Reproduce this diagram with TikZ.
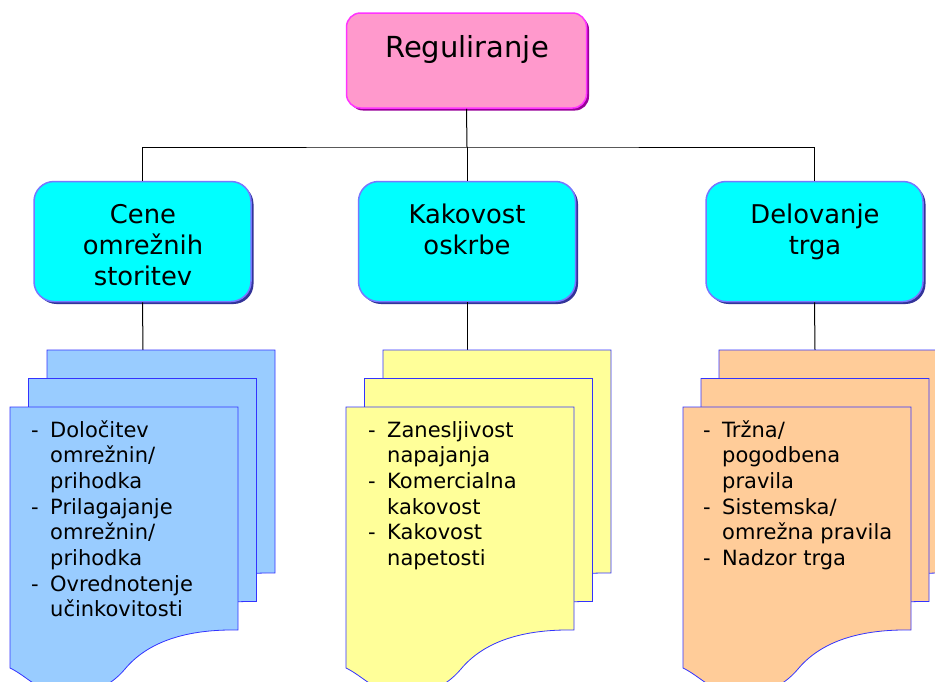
\documentclass[tikz,border=0pt]{standalone}
\usepackage{fontspec}
\setmainfont{DejaVu Sans}
\usetikzlibrary{shadows}
\definecolor{pinkfill}{HTML}{FF99CC}
\definecolor{pinkline}{HTML}{FF33FF}
\definecolor{pinkshadow}{HTML}{990099}
\definecolor{cyanfill}{HTML}{00FFFF}
\definecolor{cyanline}{HTML}{7777FF}
\definecolor{cyanshadow}{HTML}{333399}
\definecolor{sheetline}{HTML}{3333FF}
\definecolor{bluesheet}{HTML}{99CCFF}
\definecolor{yellowsheet}{HTML}{FFFF99}
\definecolor{orangesheet}{HTML}{FFCC99}
\newcommand\mydocsheet[3]{%
  \begin{scope}[shift={(#1,#2)}]
    \filldraw[fill=#3,draw=sheetline,line width=0.8pt]
      (0,0) -- (228,0) -- (228,223)
      .. controls (170,222) and (135,238) .. (115,262)
      .. controls (100,280) and (75,292) .. (50,288)
      .. controls (30,285) and (15,268) .. (0,261) -- cycle;
  \end{scope}}
\newcommand\mydash{\leavevmode\llap{\makebox[19pt][l]{-}}}
\begin{document}
\begin{tikzpicture}[x=1pt,y=-1pt,
  topbox/.style={draw=pinkline,fill=pinkfill,line width=1.5pt,rounded corners=14pt,
    minimum width=240pt,minimum height=95pt,
    drop shadow={shadow xshift=2.5pt,shadow yshift=-2.5pt,fill=pinkshadow,opacity=1}},
  midbox/.style={draw=cyanline,fill=cyanfill,line width=1.5pt,rounded corners=20pt,
    minimum width=217pt,minimum height=120pt,
    drop shadow={shadow xshift=2.5pt,shadow yshift=-2.5pt,fill=cyanshadow,opacity=1}},
  midtext/.style={anchor=base,inner sep=0pt,font=\fontsize{25.8}{31}\selectfont},
  listtext/.style={anchor=base west,inner sep=0pt,font=\fontsize{21}{25.7}\selectfont},
  conn/.style={draw=black,line width=1pt}]
\useasboundingbox (0,0) rectangle (935,681);
\clip (0,0) rectangle (935,681);
\fill[white] (0,0) rectangle (935,681);

% top box
\node[topbox] (reg) at (466.5,60.5) {};
\node[anchor=base,inner sep=0pt,font=\fontsize{29}{33}\selectfont] (regt) at (467,57.5) {Reguliranje};

% middle boxes
\node[midbox] (cene) at (142.5,241.5) {};
\node[midbox] (kak) at (467,241.5) {};
\node[midbox] (trg) at (814.5,241.5) {};
\begin{scope}
  \clip (30,181) rectangle (255,288);
  \node[midtext] (cenet) at (143,223) {\parbox[t]{210pt}{\centering Cene\\omrežnih\\storitev}};
\end{scope}
\node[midtext] (kakt) at (467,223) {\parbox[t]{210pt}{\centering Kakovost\\oskrbe}};
\node[midtext] (trgt) at (815,223) {\parbox[t]{210pt}{\centering Delovanje\\trga}};

% connectors
\coordinate (bus) at (467,147);
\draw[conn] (reg.south) -- (bus);
\draw[conn] (cene.north) |- (bus) -| (trg.north);
\draw[conn] (bus) -- (kak.north);
\coordinate (s1) at (143,350);
\coordinate (s2) at (467,350);
\coordinate (s3) at (815,350);
\draw[conn] (cene.south) -- (s1);
\draw[conn] (kak.south) -- (s2);
\draw[conn] (trg.south) -- (s3);

% sheets
\mydocsheet{47}{350}{bluesheet}
\mydocsheet{28.5}{378.5}{bluesheet}
\mydocsheet{10}{407}{bluesheet}
\mydocsheet{383}{350}{yellowsheet}
\mydocsheet{364.5}{378.5}{yellowsheet}
\mydocsheet{346}{407}{yellowsheet}
\mydocsheet{719}{350}{orangesheet}
\mydocsheet{701}{378.5}{orangesheet}
\mydocsheet{683}{407}{orangesheet}

% lists
\node[listtext] (l1) at (50,437) {\parbox[t]{200pt}{\raggedright
  \mydash Določitev\\omrežnin/\\prihodka\\
  \mydash Prilagajanje\\omrežnin/\\prihodka\\
  \mydash Ovrednotenje\\učinkovitosti}};
\node[listtext] (l2) at (387,437) {\parbox[t]{200pt}{\raggedright
  \mydash Zanesljivost\\napajanja\\
  \mydash Komercialna\\kakovost\\
  \mydash Kakovost\\napetosti}};
\node[listtext] (l3) at (722,437) {\parbox[t]{200pt}{\raggedright
  \mydash Tržna/\\pogodbena\\pravila\\
  \mydash Sistemska/\\omrežna pravila\\
  \mydash Nadzor trga}};
\end{tikzpicture}
\end{document}
